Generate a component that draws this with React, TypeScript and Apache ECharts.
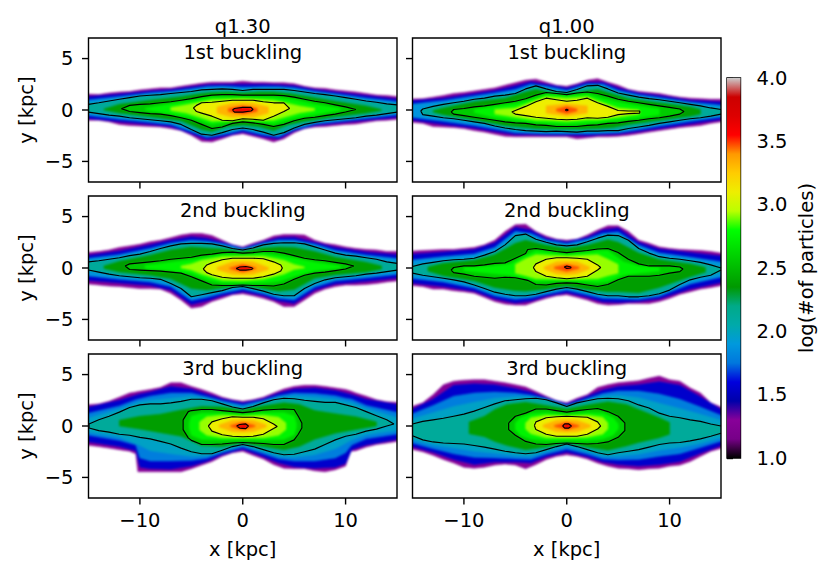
import React, { useEffect, useRef } from "react";
import * as echarts from "echarts";

type Row = number[];

const columnTitles = ["q1.30", "q1.00"];
const rowTitles = ["1st buckling", "2nd buckling", "3rd buckling"];
const xTicks = [-10, 0, 10];
const yTicks = [-5, 0, 5];
const colorPositions = [0, 0.05, 0.1, 0.15, 0.2, 0.25, 0.3, 0.35, 0.4, 0.45, 0.5, 0.55, 0.6, 0.65, 0.7, 0.75, 0.8, 0.85, 0.9, 0.95, 1];
const colorValues = ["#000000", "#770088", "#880099", "#0000aa", "#0000dd", "#0077dd", "#0099dd", "#00aaaa", "#00aa88", "#009900", "#00bb00", "#00dd00", "#00ff00", "#bbff00", "#eeee00", "#ffcc00", "#ff9900", "#ff0000", "#dd0000", "#cc0000", "#cccccc"];
const bandFill = [1.27, 1.55, 1.88, 2.12, 2.37, 2.57, 2.75, 2.92, 3.1, 3.32, 3.47, 3.6];
const wideBlueFill = [1.78, 1.97];
const contourBands = [3, 5, 8, 11];

// rows: [x, upper y, lower y] for each density level, kpc
const A_e: Row[] = [[-15,1.55,-1],[-14,1.5,-1],[-13,1.65,-1.15],[-12,1.75,-1.4],[-11,1.8,-1.5],[-10,1.95,-1.55],[-9,2.05,-1.6],[-8,2.15,-1.65],[-7,2.15,-1.8],[-6,2.3,-2],[-5,2.45,-2.45],[-4,2.6,-3.05],[-3,2.7,-3.1],[-2,2.7,-2.8],[-1,2.7,-2.45],[0,2.8,-2.3],[1,2.7,-2.55],[2,2.7,-2.8],[3,2.65,-3.1],[4,2.65,-2.8],[5,2.55,-2.2],[6,2.3,-1.8],[7,2.15,-1.65],[8,2.1,-1.6],[9,1.95,-1.5],[10,1.85,-1.4],[11,1.75,-1.35],[12,1.6,-1.2],[13,1.45,-1.05],[14,1.4,-1],[15,1.25,-0.85]];
const A_145: Row[] = [[-15,1.25,-0.75],[-12,1.55,-1.15],[-9,1.85,-1.4],[-7,2,-1.6],[-5,2.25,-2.3],[-3.5,2.45,-2.85],[-2,2.5,-2.6],[0,2.5,-2.15],[2,2.5,-2.6],[3.5,2.45,-2.8],[5,2.35,-2.05],[7,2,-1.5],[9,1.75,-1.3],[12,1.4,-1],[15,1,-0.65]];
const A_175: Row[] = [[-15,0.9,-0.45],[-12,1.3,-0.9],[-9,1.65,-1.2],[-7,1.8,-1.4],[-5,2.05,-2.1],[-3.5,2.25,-2.65],[-2,2.3,-2.4],[0,2.2,-1.95],[2,2.25,-2.4],[3.5,2.25,-2.6],[5,2.15,-1.9],[7,1.8,-1.35],[9,1.55,-1.15],[12,1.15,-0.8],[15,0.75,-0.4]];
const A_c2: Row[] = [[-15,0.55,-0.2],[-14,0.7,-0.35],[-13,0.87,-0.5],[-12,1.04,-0.6],[-11,1.2,-0.75],[-10,1.36,-0.85],[-9,1.43,-0.95],[-8,1.5,-1.05],[-7,1.6,-1.15],[-6,1.7,-1.4],[-5,1.8,-1.9],[-4,1.95,-2.35],[-3,2,-2.45],[-2,2.05,-2.2],[-1,2,-1.9],[0,1.9,-1.75],[1,2,-1.9],[2,2,-2.15],[3,2,-2.45],[4,2,-2.2],[5,1.9,-1.75],[6,1.75,-1.4],[7,1.6,-1.2],[8,1.5,-1.05],[9,1.36,-0.95],[10,1.2,-0.85],[11,1.04,-0.75],[12,0.87,-0.6],[13,0.75,-0.5],[14,0.6,-0.35],[15,0.5,-0.2]];
const A_225: Row[] = [[-13.5,0.1,0],[-12,0.55,-0.3],[-9,0.95,-0.65],[-6,1.3,-1.05],[-4,1.6,-1.9],[-3,1.7,-2.1],[-1.5,1.75,-1.6],[0,1.65,-1.45],[1.5,1.75,-1.6],[3,1.75,-2],[4.5,1.6,-1.4],[6,1.35,-1.1],[9,0.85,-0.65],[12,0.4,-0.3],[13.5,0.05,-0.05]];
const A_c25: Row[] = [[-11.8,0.13,0.13],[-11,0.45,-0.15],[-10,0.55,-0.25],[-9,0.6,-0.35],[-8,0.7,-0.4],[-7,0.8,-0.55],[-6,0.95,-0.75],[-5,1.1,-1],[-4,1.3,-1.4],[-3,1.45,-1.8],[-2,1.5,-1.65],[-1,1.5,-1.3],[0,1.45,-1.15],[1,1.45,-1.25],[2,1.45,-1.4],[3,1.45,-1.6],[4,1.4,-1.4],[5,1.25,-1.05],[6,1.05,-0.8],[7,0.85,-0.7],[8,0.7,-0.55],[9,0.5,-0.4],[10,0.3,-0.2],[11,0.05,0.05]];
const A_265: Row[] = [[-9.5,0.15,0.05],[-7,0.6,-0.4],[-5,0.9,-0.75],[-3,1.25,-1.4],[0,1.25,-0.95],[3,1.25,-1.35],[5,1,-0.8],[7,0.55,-0.45],[9.5,0.15,0]];
const A_285: Row[] = [[-7,0.25,-0.05],[-5.5,0.5,-0.3],[-3,1,-1.1],[0,1.1,-0.95],[3,0.95,-1],[5.5,0.4,-0.3],[7,0.15,-0.05]];
const A_c3: Row[] = [[-4.8,0.2,0.2],[-4.5,0.45,-0.15],[-4,0.7,-0.3],[-3,0.75,-0.6],[-2,0.85,-1],[-1,0.95,-1.05],[0,0.95,-0.85],[1,0.95,-0.9],[2,0.8,-1],[3,0.7,-0.6],[4,0.7,-0.15],[4.55,0.15,0.15]];
const A_325: Row[] = [[-2.5,0.3,-0.3],[-1,0.65,-0.7],[0,0.7,-0.65],[1,0.65,-0.7],[2.5,0.3,-0.3]];
const A_34: Row[] = [[-1.4,0.15,-0.15],[0,0.4,-0.4],[1.4,0.15,-0.15]];
const A_c35: Row[] = [[-1,0,0],[-0.8,0.15,-0.2],[0,0.25,-0.2],[0.8,0.25,-0.1],[1,0.05,0.05]];

const B_e: Row[] = [[-15,1.05,-1.15],[-14,1.1,-1.3],[-13,1.25,-1.6],[-12,1.4,-1.65],[-11,1.6,-1.7],[-10,1.7,-1.8],[-9,1.85,-2],[-8,2,-2.15],[-7,2.15,-2.35],[-6,2.4,-2.55],[-5,2.65,-2.6],[-4,2.9,-2.6],[-3,3,-2.6],[-2,2.7,-2.6],[-1,2.4,-2.6],[0,2.3,-2.6],[1,2.55,-2.8],[2,2.9,-2.7],[3,3.05,-2.6],[4,2.7,-2.6],[5,2.4,-2.55],[6,2,-2.45],[7,1.8,-2.3],[8,1.7,-2.15],[9,1.6,-2],[10,1.4,-1.85],[11,1.25,-1.7],[12,1.15,-1.6],[13,1.1,-1.5],[14,1.05,-1.3],[15,1.05,-1.05]];
const B_145: Row[] = [[-15,0.85,-0.9],[-12,1.15,-1.4],[-9,1.6,-1.75],[-7,1.9,-2.1],[-5,2.35,-2.4],[-3.5,2.75,-2.4],[-2,2.5,-2.45],[0,2.15,-2.45],[2,2.7,-2.5],[3.5,2.7,-2.4],[5,2.15,-2.35],[7,1.65,-2.1],[9,1.4,-1.8],[12,0.95,-1.35],[15,0.75,-0.85]];
const B_175: Row[] = [[-15,0.5,-0.65],[-12,0.9,-1.1],[-9,1.35,-1.5],[-7,1.65,-1.85],[-5,2,-2.2],[-3.5,2.5,-2.25],[-2,2.3,-2.3],[0,1.9,-2.3],[2,2.5,-2.3],[3.5,2.5,-2.25],[5,1.9,-2.2],[7,1.45,-1.9],[9,1.2,-1.55],[12,0.75,-1.1],[15,0.4,-0.6]];
const B_c2: Row[] = [[-14.2,-0.1,-0.1],[-14,0.1,-0.45],[-13,0.35,-0.6],[-12,0.55,-0.75],[-11,0.7,-0.85],[-10,0.85,-1],[-9,1.05,-1.15],[-8,1.15,-1.3],[-7,1.35,-1.55],[-6,1.45,-1.75],[-5,1.6,-1.9],[-4,2.05,-2],[-3,2.35,-2.05],[-2,2.05,-2.1],[-1,1.8,-2.05],[0,1.7,-2.1],[1,2,-2.15],[2,2.35,-2.05],[3,2.4,-2.05],[4,2.05,-2],[5,1.65,-2],[6,1.45,-1.8],[7,1.25,-1.65],[8,1.1,-1.5],[9,1,-1.3],[10,0.85,-1.15],[11,0.7,-1],[12,0.55,-0.85],[13,0.4,-0.75],[14,0.2,-0.6],[15,0.05,-0.4]];
const B_225: Row[] = [[-13,-0.05,-0.2],[-12,0.2,-0.45],[-9,0.8,-0.95],[-6,1.15,-1.5],[-4,1.75,-1.7],[-3,2,-1.8],[-1.5,1.7,-1.85],[0,1.55,-1.85],[1.5,1.8,-1.85],[3,2,-1.8],[4.5,1.55,-1.7],[6,1.1,-1.4],[9,0.7,-1],[12,0.3,-0.6],[13,0.05,-0.4]];
const B_c25: Row[] = [[-11.25,-0.2,-0.2],[-11,0.05,-0.4],[-10,0.15,-0.55],[-9,0.3,-0.7],[-8,0.4,-0.85],[-7,0.55,-1],[-6,0.7,-1.15],[-5,0.85,-1.25],[-4,1.1,-1.3],[-3,1.45,-1.45],[-2,1.7,-1.5],[-1,1.6,-1.6],[0,1.5,-1.6],[1,1.65,-1.6],[2,1.75,-1.5],[3,1.6,-1.45],[4,1.35,-1.3],[5,1.05,-1.25],[6,0.85,-1.1],[7,0.7,-1],[8,0.55,-0.85],[9,0.4,-0.75],[10,0.25,-0.6],[11,0.1,-0.4],[11.4,-0.15,-0.15]];
const B_265: Row[] = [[-9,0.05,-0.25],[-7,0.35,-0.75],[-5,0.6,-1],[-3.5,1,-1.15],[-2,1.5,-1.3],[0,1.35,-1.4],[2,1.55,-1.3],[3.5,1.1,-1.15],[5,0.75,-1],[7,0.4,-0.75],[9,0.1,-0.45]];
const B_285: Row[] = [[-7,0.05,-0.4],[-5,0.2,-0.7],[-3,0.95,-1],[-2,1.3,-1],[0,1.15,-1.1],[2,1.3,-0.95],[3,0.9,-0.95],[5,0.2,-0.7],[7,0,-0.4]];
const B_c3: Row[] = [[-5.35,-0.2,-0.2],[-5,-0.05,-0.4],[-4,0.35,-0.55],[-3,0.8,-0.7],[-2,1.15,-0.8],[-1,1,-0.9],[0,0.85,-0.95],[1,0.95,-0.9],[2,1.15,-0.75],[3,0.7,-0.8],[4,0.35,-0.7],[5,-0.05,-0.45],[6,-0.1,-0.35],[7.1,-0.1,-0.3]];
const B_325: Row[] = [[-2,0.4,-0.3],[0,0.6,-0.6],[2,0.4,-0.3]];
const B_34: Row[] = [[-1,0.1,-0.1],[0,0.35,-0.35],[1,0.1,-0.1]];
const B_c35: Row[] = [[-0.15,0,0],[0,0.08,-0.08],[0.15,0,0]];

const C_e: Row[] = [[-15,1.45,-1.5],[-14,1.6,-1.65],[-13,1.75,-1.75],[-12,2,-1.8],[-11,2.15,-1.9],[-10,2.3,-2],[-9,2.55,-2],[-8,2.7,-2.05],[-7,2.95,-2.45],[-6,3.2,-3.1],[-5,3.35,-3.9],[-4,3.35,-3.75],[-3,3.15,-3.25],[-2,2.7,-2.95],[-1,2.25,-2.6],[0,2.05,-2.5],[1,2.4,-2.7],[2,2.7,-2.95],[3,3.1,-3.25],[4,3.25,-3.75],[5,3.25,-3.75],[6,3.2,-3.1],[7,2.7,-2.45],[8,2.4,-2.05],[9,2.25,-1.8],[10,2.05,-1.65],[11,1.9,-1.65],[12,1.8,-1.6],[13,1.75,-1.5],[14,1.6,-1.35],[15,1.6,-1.2]];
const C_145: Row[] = [[-15,1.15,-1.15],[-12,1.65,-1.45],[-9,2.25,-1.7],[-7,2.7,-2.15],[-5,3.05,-3.55],[-3.5,2.9,-3.2],[-2,2.5,-2.7],[0,1.95,-2.3],[2,2.55,-2.7],[3.5,2.95,-3.2],[5,3,-3.45],[7,2.5,-2.15],[9,2,-1.55],[12,1.55,-1.3],[15,1.25,-0.9]];
const C_175: Row[] = [[-15,0.85,-0.7],[-12,1.3,-1.1],[-9,1.9,-1.35],[-7,2.4,-1.8],[-5,2.7,-3.15],[-3.5,2.6,-2.85],[-2,2.35,-2.45],[0,1.85,-2.05],[2,2.4,-2.5],[3.5,2.7,-2.95],[5,2.7,-3.1],[7,2.3,-1.85],[9,1.7,-1.25],[12,1.25,-0.95],[15,0.85,-0.55]];
const C_c2: Row[] = [[-15,0.6,-0.2],[-14,0.7,-0.4],[-13,0.85,-0.6],[-12,1,-0.75],[-11,1.2,-0.85],[-10,1.35,-0.95],[-9,1.6,-1],[-8,1.9,-1.1],[-7,2.15,-1.5],[-6,2.35,-2],[-5,2.4,-2.8],[-4,2.4,-2.6],[-3,2.35,-2.4],[-2,2.15,-2.2],[-1,1.9,-1.9],[0,1.75,-1.8],[1,1.95,-2],[2,2.25,-2.25],[3,2.4,-2.55],[4,2.45,-2.7],[5,2.45,-2.7],[6,2.35,-2],[7,2.05,-1.5],[8,1.75,-1.15],[9,1.45,-0.95],[10,1.25,-0.85],[11,1.15,-0.75],[12,1,-0.6],[13,0.85,-0.5],[14,0.6,-0.35],[15,0.45,-0.2]];
const C_225: Row[] = [[-13.5,0.2,-0.05],[-12,0.65,-0.4],[-9,1.25,-0.7],[-7,1.75,-1.05],[-5,2.05,-2],[-3.5,1.95,-2.15],[-2,1.85,-1.95],[0,1.6,-1.65],[2,1.95,-2],[3.5,2.05,-2.25],[5,2,-2.1],[7,1.6,-1],[9,1.05,-0.65],[12,0.55,-0.4],[13.5,0.2,-0.1]];
const C_c25: Row[] = [[-11.45,0.2,0.2],[-11,0.4,-0.15],[-10,0.5,-0.2],[-9,0.6,-0.25],[-8,0.7,-0.3],[-7,0.85,-0.4],[-6,0.95,-0.5],[-5,1.05,-0.85],[-4,1.25,-1.25],[-3,1.35,-1.65],[-2,1.5,-1.7],[-1,1.55,-1.7],[0,1.45,-1.65],[1,1.5,-1.7],[2,1.6,-1.7],[3,1.6,-1.75],[4,1.45,-1.55],[5,1.2,-1.1],[6,0.95,-0.7],[7,0.8,-0.5],[8,0.7,-0.4],[9,0.55,-0.25],[10,0.4,-0.1],[10.8,0.2,0.2]];
const C_265: Row[] = [[-9.5,0.25,-0.05],[-7,0.55,-0.25],[-5,0.8,-0.55],[-3.5,1.05,-1.15],[-2,1.3,-1.45],[0,1.25,-1.45],[2,1.4,-1.45],[3.5,1.2,-1.3],[5,0.95,-0.8],[7,0.55,-0.25],[9.5,0.2,0]];
const C_285: Row[] = [[-6,0.2,0],[-5,0.4,-0.2],[-4,0.75,-0.6],[-2,1.1,-1.2],[0,1.15,-1.25],[2,1.15,-1.1],[4,0.75,-0.6],[5,0.35,-0.15],[6,0.1,0]];
const C_c3: Row[] = [[-3.85,-0.1,-0.1],[-3.5,0.3,-0.45],[-3,0.5,-0.65],[-2,0.8,-0.9],[-1,0.95,-1],[0,0.95,-1],[1,0.95,-1],[2,0.9,-0.85],[3,0.6,-0.6],[3.7,0.3,-0.3],[3.85,0,0]];
const C_325: Row[] = [[-2.5,0.05,-0.15],[-1,0.6,-0.6],[0,0.65,-0.65],[1,0.6,-0.6],[2.5,0.05,-0.15]];
const C_34: Row[] = [[-1.3,0,-0.05],[0,0.35,-0.4],[1.3,0,-0.05]];
const C_c35: Row[] = [[-0.65,-0.05,-0.05],[-0.3,0.1,-0.2],[0.3,0.15,-0.2],[0.8,0.05,-0.15],[1,-0.05,-0.05]];

const D_e: Row[] = [[-15,1.6,-1.65],[-14,1.7,-1.8],[-13,1.75,-2.05],[-12,1.8,-2.05],[-11,1.8,-2.2],[-10,1.9,-2.3],[-9,2,-2.45],[-8,2.25,-2.85],[-7,2.7,-3.25],[-6,3.55,-3.5],[-5,4.2,-3.6],[-4,4.25,-3.6],[-3,3.55,-3.25],[-2,3.1,-2.95],[-1,2.8,-2.7],[0,2.7,-2.6],[1,2.8,-2.85],[2,3.2,-3.1],[3,3.7,-3.45],[4,4.1,-3.6],[5,4.1,-3.55],[6,3.55,-3.45],[7,2.7,-3.45],[8,2.4,-3.45],[9,2.05,-3.25],[10,1.9,-2.95],[11,1.8,-2.55],[12,1.75,-2.3],[13,1.7,-2.05],[14,1.6,-1.9],[15,1.35,-1.6]];
const D_145: Row[] = [[-15,1.3,-1.4],[-12,1.55,-1.8],[-9,1.8,-2.25],[-7,2.45,-3],[-5,3.95,-3.4],[-3.5,3.7,-3.2],[-2,2.9,-2.75],[0,2.55,-2.4],[2,3,-2.85],[3.5,3.7,-3.3],[5,3.9,-3.35],[7,2.5,-3.25],[9,1.85,-3],[12,1.5,-2.05],[15,1.1,-1.3]];
const D_175: Row[] = [[-15,0.7,-0.95],[-12,1.1,-1.35],[-9,1.35,-1.95],[-7,2,-2.7],[-5,3.55,-3.05],[-3.5,3.35,-2.9],[-2,2.7,-2.55],[0,2.35,-2.15],[2,2.8,-2.6],[3.5,3.35,-2.95],[5,3.5,-3],[7,2.2,-3.05],[9,1.45,-2.75],[12,1.05,-1.55],[15,0.5,-0.75]];
const D_c2: Row[] = [[-15,0.15,-0.5],[-14,0.4,-0.7],[-13,0.55,-0.85],[-12,0.7,-1],[-11,0.8,-1.15],[-10,0.85,-1.35],[-9,0.95,-1.65],[-8,1.25,-2],[-7,1.6,-2.35],[-6,2.25,-2.55],[-5,3.15,-2.7],[-4,3.3,-2.7],[-3,2.8,-2.55],[-2,2.5,-2.3],[-1,2.25,-2.05],[0,2.15,-1.9],[1,2.25,-2.05],[2,2.55,-2.3],[3,2.9,-2.55],[4,3.2,-2.7],[5,3.15,-2.7],[6,2.7,-2.8],[7,1.9,-2.8],[8,1.45,-2.7],[9,1.1,-2.5],[10,0.95,-2.15],[11,0.85,-1.6],[12,0.7,-1.15],[13,0.55,-0.9],[14,0.3,-0.7],[15,0,-0.2]];
const D_225: Row[] = [[-13.5,0.1,-0.3],[-12,0.45,-0.75],[-9,0.75,-1.25],[-7,1.3,-1.9],[-5,2.4,-2.2],[-4,2.7,-2.25],[-2,2.2,-2.05],[0,1.9,-1.75],[2,2.2,-2.1],[4,2.75,-2.3],[5,2.5,-2.3],[7,1.45,-2.4],[9,0.8,-1.9],[12,0.4,-0.85],[13.5,0.05,-0.4]];
const D_c25: Row[] = [[-11.25,-0.2,-0.2],[-11,0.05,-0.45],[-10,0.2,-0.6],[-9,0.2,-0.8],[-8,0.3,-0.9],[-7,0.45,-1],[-6,0.5,-0.9],[-5,0.95,-0.95],[-4,1.4,-1.15],[-3.8,1.8,-1.2],[-3,1.9,-1.6],[-2,1.75,-1.65],[-1,1.6,-1.5],[0,1.5,-1.45],[1,1.6,-1.5],[2,1.7,-1.65],[3,1.85,-1.8],[4,1.9,-1.6],[5,1.5,-1.15],[6,0.85,-0.8],[7,0.4,-0.8],[8,0.2,-0.8],[9,0.2,-0.7],[10,0.2,-0.5],[11,0.1,-0.35],[11.3,-0.1,-0.1]];
const D_265: Row[] = [[-10,0.05,-0.25],[-7,0.2,-0.55],[-5.5,0.4,-0.7],[-4,1.2,-1],[-3,1.7,-1.3],[0,1.3,-1.2],[3,1.65,-1.4],[4,1.7,-1.3],[5.5,0.6,-0.7],[7,0.2,-0.5],[9,0.05,-0.3]];
const D_285: Row[] = [[-5,0.35,-0.5],[-4,0.9,-0.75],[-3,1.3,-1.05],[0,1.15,-1.1],[3,1.3,-1.05],[4,0.85,-0.75],[5,0.35,-0.5]];
const D_c3: Row[] = [[-3.25,0.05,0.05],[-3,0.4,-0.35],[-2,0.85,-0.8],[-1,1,-0.95],[0,1,-1.05],[1,0.95,-0.95],[2,0.85,-0.8],[3,0.3,-0.2],[3.3,0.05,0.05]];
const D_325: Row[] = [[-2.2,0.1,-0.1],[-1,0.6,-0.55],[0,0.65,-0.65],[1,0.6,-0.55],[2.2,0.1,-0.1]];
const D_34: Row[] = [[-1.2,0.1,-0.05],[0,0.35,-0.35],[1.2,0.1,-0.05]];
const D_c35: Row[] = [[-0.25,0.1,0.1],[0,0.2,-0.05],[0.4,0.1,0]];

const E_e: Row[] = [[-15,2,-1.8],[-14,2.15,-2],[-13,2.4,-2.15],[-12,2.8,-2.3],[-11,3.2,-2.45],[-10.4,3.3,-2.7],[-10.2,3.35,-4.45],[-9,3.55,-4.45],[-8,3.75,-4.45],[-7,4.2,-4.45],[-6,4.2,-4.45],[-5,3.85,-4.15],[-4,3.55,-3.8],[-3,3.2,-3.45],[-2,2.8,-2.95],[-1,2.55,-2.6],[0,2.4,-2.45],[1,2.55,-2.85],[2,2.8,-3.2],[3,3.2,-3.75],[4,3.6,-4.1],[5,3.85,-4.15],[6,3.95,-4.15],[7,3.95,-4.35],[8,3.85,-4.45],[9,3.7,-4.25],[10,3.55,-3.9],[10.5,3.4,-2.45],[11,3.2,-2.4],[12,2.9,-2.05],[13,2.55,-1.8],[14,2.35,-1.65],[15,2.25,-1.4]];
const E_145: Row[] = [[-15,1.7,-1.45],[-12,2.5,-2],[-10.4,3,-2.4],[-10,3.1,-4],[-9,3.3,-4.15],[-7,3.85,-4.2],[-5,3.6,-3.9],[-3.5,3.1,-3.45],[-2,2.65,-2.8],[0,2.25,-2.25],[2,2.65,-3],[3.5,3.2,-3.6],[5,3.6,-3.95],[7,3.7,-4.1],[9,3.45,-4],[10,3.2,-3.65],[10.6,3.05,-2.3],[12,2.6,-1.85],[15,2,-1.2]];
const E_175: Row[] = [[-15,1.1,-0.8],[-12,1.95,-1.4],[-10.4,2.55,-1.85],[-10,2.65,-3.1],[-9,2.9,-3.4],[-7,3.2,-3.4],[-5,3.2,-3.35],[-3.5,2.85,-3.15],[-2,2.45,-2.6],[0,2.05,-2.05],[2,2.5,-2.7],[3.5,2.95,-3.2],[5,3.2,-3.4],[7,3.15,-3.4],[9,2.95,-3.1],[10,2.7,-2.6],[10.6,2.6,-1.85],[12,2,-1.25],[15,1.2,-0.7]];
const E_19: Row[] = [[-15,0.6,-0.5],[-12,1.65,-1.1],[-10,2.35,-1.9],[-9,2.5,-2.4],[-7,2.7,-2.7],[-5,2.9,-2.95],[-3.5,2.7,-2.9],[-2,2.3,-2.45],[0,1.85,-1.92],[2,2.38,-2.5],[3.5,2.8,-2.95],[5,2.92,-3.05],[7,2.8,-2.8],[9,2.6,-2.2],[10.6,2.25,-1.35],[12,1.7,-0.85],[15,0.65,-0.35]];
const E_c2: Row[] = [[-14.95,0.2,-0.2],[-14,0.6,-0.45],[-13,0.95,-0.6],[-12,1.35,-0.8],[-11,1.8,-0.9],[-10,2.05,-1.1],[-9,2.15,-1.25],[-8,2.15,-1.5],[-7,2.25,-1.75],[-6,2.4,-2.15],[-5,2.6,-2.5],[-4,2.6,-2.7],[-3,2.45,-2.7],[-2,2.15,-2.35],[-1,1.85,-2],[0,1.65,-1.8],[1,1.9,-2],[2,2.25,-2.3],[3,2.55,-2.6],[4,2.7,-2.8],[5,2.65,-2.75],[6,2.5,-2.5],[7,2.4,-2.25],[8,2.3,-1.8],[9,2.3,-1.35],[10,2.05,-1],[11,1.8,-0.8],[12,1.4,-0.5],[13,1,-0.3],[14,0.6,0],[14.7,0.2,0.2]];
const E_225: Row[] = [[-12,0.55,0],[-10,0.95,-0.3],[-8,1.15,-0.65],[-6,1.55,-1],[-4,1.9,-1.9],[-2,1.85,-2],[0,1.55,-1.65],[2,1.95,-2],[4,2.25,-2.3],[5.5,2.1,-2],[7,1.5,-1.3],[9,1.2,-0.7],[11,0.9,-0.35],[13,0.4,0]];
const E_c25: Row[] = [[-5.8,0.6,-0.35],[-5.3,1.4,-1.15],[-5,1.5,-1.4],[-4,1.6,-1.8],[-3,1.6,-1.8],[-2,1.5,-1.75],[-1,1.4,-1.65],[0,1.3,-1.6],[1,1.4,-1.65],[2,1.55,-1.7],[3,1.6,-1.8],[4,1.65,-1.8],[5,1.6,-1.35],[5.4,0.95,-0.8],[5.75,0.3,-0.2]];
const E_265: Row[] = [[-5.2,0.3,-0.2],[-5,0.95,-0.9],[-4,1.25,-1.3],[-2,1.25,-1.35],[0,1.1,-1.3],[2,1.3,-1.35],[4,1.3,-1.3],[5,0.95,-0.85],[5.2,0.3,-0.2]];
const E_285: Row[] = [[-4.2,0.4,-0.4],[-3.5,0.9,-0.9],[-2,1.05,-1.15],[0,0.95,-1.15],[2,1.05,-1.15],[3.5,0.85,-0.9],[4.2,0.3,-0.35]];
const E_c3: Row[] = [[-3.35,0,0],[-3,0.4,-0.5],[-2,0.7,-0.85],[-1,0.9,-1],[0,0.85,-1.05],[1,0.85,-1],[2,0.7,-0.8],[3,0.2,-0.25],[3.35,-0.05,-0.05]];
const E_325: Row[] = [[-2.3,0.1,-0.1],[-1,0.55,-0.55],[0,0.6,-0.6],[1,0.55,-0.55],[2.3,0.1,-0.1]];
const E_34: Row[] = [[-1.2,0.05,-0.05],[0,0.35,-0.35],[1.2,0.05,-0.05]];
const E_c35: Row[] = [[-0.6,0,0],[-0.3,0.15,-0.2],[0.3,0.2,-0.25],[0.55,0,0]];

const F_e: Row[] = [[-15,1.7,-2.15],[-14,2.25,-2.5],[-13,3.05,-2.85],[-12,4,-3.25],[-11,4.35,-3.6],[-10,4.45,-4],[-9,4.5,-4.1],[-8,4.5,-4],[-7,4.35,-3.8],[-6,4.2,-3.7],[-5,4,-3.8],[-4,3.8,-4.15],[-3,3.35,-3.75],[-2,2.9,-3.25],[-1,2.45,-2.95],[0,2.25,-2.8],[1,2.7,-2.95],[2,3.05,-3.2],[3,3.75,-3.6],[4,4,-3.9],[5,4.2,-4.1],[6,4.3,-4.15],[7,4.4,-4.25],[8,4.65,-4.15],[9,4.85,-4.1],[10,4.5,-3.9],[11,4.35,-3.8],[12,3.7,-3.45],[13,3.2,-2.95],[14,2.25,-2.45],[15,1.6,-2]];
const F_145: Row[] = [[-15,1.35,-1.85],[-13,2.6,-2.55],[-11,3.95,-3.25],[-9,4.1,-3.75],[-7,4,-3.5],[-5,3.65,-3.5],[-3.5,3.3,-3.6],[-2,2.75,-3],[0,2.15,-2.55],[2,2.9,-3],[3.5,3.5,-3.5],[5,3.85,-3.75],[7,4,-3.9],[9,4.3,-3.75],[11,3.95,-3.45],[13,2.85,-2.65],[15,1.25,-1.7]];
const F_175: Row[] = [[-15,0.95,-1.5],[-13,2,-2.2],[-11,2.9,-2.7],[-9,3.2,-3.05],[-7,3.3,-3.1],[-5,3.2,-3.2],[-3.5,3,-3.25],[-2,2.65,-2.75],[0,2,-2.25],[2,2.65,-2.75],[3.5,3.15,-3.2],[5,3.4,-3.3],[7,3.4,-3.25],[9,3.1,-2.95],[11,2.6,-2.7],[13,1.85,-2.1],[15,0.8,-1.3]];
const F_19: Row[] = [[-15,0.55,-1.2],[-13,1.3,-1.85],[-11,1.9,-2.15],[-9,2.3,-2.45],[-7,2.7,-2.65],[-5,2.85,-2.9],[-3.5,2.85,-2.95],[-2,2.6,-2.5],[0,1.95,-2],[2,2.55,-2.5],[3.5,2.9,-2.95],[5,3,-2.95],[7,2.75,-2.75],[9,2.2,-2.35],[11,1.7,-2.1],[13,1.15,-1.7],[15,0.4,-1]];
const F_c2: Row[] = [[-15,0.2,-0.95],[-14,0.45,-1.35],[-13,0.6,-1.55],[-12,0.75,-1.65],[-11,0.95,-1.7],[-10,1.15,-1.75],[-9,1.45,-1.9],[-8,1.8,-2.05],[-7,2.15,-2.25],[-6,2.45,-2.45],[-5,2.55,-2.6],[-4,2.65,-2.7],[-3,2.7,-2.6],[-2,2.55,-2.3],[-1,2.25,-2],[0,1.9,-1.75],[1,2.25,-2],[2,2.45,-2.3],[3,2.65,-2.6],[4,2.7,-2.8],[5,2.65,-2.6],[6,2.45,-2.45],[7,2.05,-2.3],[8,1.75,-2.05],[9,1.25,-1.8],[10,0.95,-1.65],[11,0.8,-1.6],[12,0.6,-1.45],[13,0.45,-1.25],[14,0.2,-1],[15,0,-0.7]];
const F_225: Row[] = [[-9.5,0.4,-0.75],[-8,0.95,-1.05],[-7,1.6,-1.5],[-5.8,2.1,-1.9],[-4,2.3,-2.3],[-2,2,-2.05],[0,1.65,-1.6],[2,2.05,-2.05],[4,2.35,-2.35],[5.8,2.1,-1.95],[7,1.6,-1.6],[9,0.8,-1.15],[10,0.35,-0.8]];
const F_c25: Row[] = [[-5.65,0.3,-0.35],[-5,0.95,-0.9],[-4,1.25,-1.5],[-3,1.65,-1.75],[-2,1.65,-1.8],[-1,1.5,-1.7],[0,1.35,-1.65],[1,1.5,-1.7],[2,1.6,-1.75],[3,1.7,-1.7],[4,1.4,-1.55],[5,0.95,-1.1],[5.65,0.3,-0.45]];
const F_265: Row[] = [[-5,0.3,-0.35],[-4.5,0.8,-0.9],[-3.5,1.2,-1.25],[-2,1.3,-1.4],[0,1.1,-1.35],[2,1.3,-1.4],[3.5,1.25,-1.25],[4.5,0.8,-0.9],[5,0.2,-0.3]];
const F_285: Row[] = [[-4,0.3,-0.3],[-3.5,0.8,-0.75],[-2,1.05,-1.15],[0,0.95,-1.15],[2,1.05,-1.1],[3.5,0.85,-0.8],[4,0.3,-0.3]];
const F_c3: Row[] = [[-3.15,0.05,0.05],[-3,0.4,-0.35],[-2,0.8,-0.8],[-1,0.9,-1],[0,0.95,-1],[1,0.9,-1],[2,0.85,-0.8],[3,0.4,-0.3],[3.3,0,0]];
const F_325: Row[] = [[-2.3,0.1,-0.1],[-1,0.55,-0.55],[0,0.6,-0.6],[1,0.55,-0.55],[2.3,0.1,-0.1]];
const F_34: Row[] = [[-1.2,0.05,-0.05],[0,0.35,-0.35],[1.2,0.05,-0.05]];
const F_c35: Row[] = [[-0.4,0,0],[-0.2,0.2,-0.2],[0.2,0.2,-0.2],[0.45,0,0]];

const panelBands: Row[][][] = [
  [A_e, A_145, A_175, A_c2, A_225, A_c25, A_265, A_285, A_c3, A_325, A_34, A_c35],
  [B_e, B_145, B_175, B_c2, B_225, B_c25, B_265, B_285, B_c3, B_325, B_34, B_c35],
  [C_e, C_145, C_175, C_c2, C_225, C_c25, C_265, C_285, C_c3, C_325, C_34, C_c35],
  [D_e, D_145, D_175, D_c2, D_225, D_c25, D_265, D_285, D_c3, D_325, D_34, D_c35],
  [E_e, E_145, E_175, E_c2, E_225, E_c25, E_265, E_285, E_c3, E_325, E_34, E_c35],
  [F_e, F_145, F_175, F_c2, F_225, F_c25, F_265, F_285, F_c3, F_325, F_34, F_c35],
];
const wideBlueBands: (Row[] | null)[] = [null, null, null, null, E_19, F_19];

const FONT = "DejaVu Sans";
const FS = 19.5;
const colLeft = [88.5, 412.5];
const rowTop = [38, 196, 354];
const panelW = 308.5;
const panelH = 144;

function colorAt(v: number): string {
  const f = (v - 1) / 3;
  let i = 0;
  while (i < colorPositions.length - 2 && colorPositions[i + 1] < f) i++;
  const t = (f - colorPositions[i]) / (colorPositions[i + 1] - colorPositions[i]);
  const a = echarts.color.parse(colorValues[i]);
  const b = echarts.color.parse(colorValues[i + 1]);
  const c = [0, 1, 2].map((k) => Math.round(a[k] + (b[k] - a[k]) * t));
  return `rgb(${c[0]},${c[1]},${c[2]})`;
}

function ring(t: Row[]): number[][] {
  return [...t.map((r) => [r[0], r[1]]), ...[...t].reverse().map((r) => [r[0], r[2]])];
}

function contourLine(t: Row[]): any[][] {
  const top = t.map((r) => [r[0], r[1]]);
  const bot = [...t].reverse().map((r) => [r[0], r[2]]);
  const rightOpen = t[t.length - 1][0] >= 15;
  const leftOpen = t[0][0] <= -15;
  const out: any[][] = [...top];
  if (rightOpen) out.push(["-", "-"]);
  out.push(...bot);
  if (!leftOpen) out.push(top[0]);
  return out;
}

function panelGrid(idx: number, visible: boolean) {
  const col = idx % 2;
  const row = Math.floor(idx / 2);
  return { left: colLeft[col], top: rowTop[row], width: panelW, height: panelH, show: visible, borderColor: "#000", borderWidth: 1.4, backgroundColor: "transparent" };
}

// Underlay: density bands only. It is softened by a CSS blur, as the reference's fine bins blend smoothly.
function buildDensityOption() {
  const grid: any[] = [];
  const xAxis: any[] = [];
  const yAxis: any[] = [];
  const series: any[] = [];
  panelBands.forEach((bands, idx) => {
    grid.push(panelGrid(idx, false));
    xAxis.push({ type: "value", gridIndex: idx, min: -15, max: 15, show: false });
    yAxis.push({ type: "value", gridIndex: idx, min: -7, max: 7, show: false });
    const layers = bands.map((t, b) => ({ t, v: bandFill[b] }));
    const wide = wideBlueBands[idx];
    if (wide) {
      layers[2].v = wideBlueFill[0];
      layers.splice(3, 0, { t: wide, v: wideBlueFill[1] });
    }
    layers.forEach(({ t, v }, b) => {
      const pts = ring(t);
      const fill = colorAt(v);
      series.push({
        type: "custom", xAxisIndex: idx, yAxisIndex: idx, coordinateSystem: "cartesian2d", clip: false, silent: true, z: 2 + b,
        encode: { x: 0, y: 1 },
        data: pts,
        renderItem: (p: any, api: any) => p.dataIndex !== 0 ? null : ({
          type: "polygon",
          // bands reaching the frame run on past it so the blur does not fade them; the wrapper clips them
          shape: { points: pts.map((q) => api.coord([Math.abs(q[0]) >= 15 ? q[0] * 1.04 : q[0], q[1]])) },
          style: { fill, stroke: fill, lineWidth: 0.5 },
        }),
      });
    });
  });
  return { animation: false, backgroundColor: "transparent", grid, xAxis, yAxis, series };
}

function buildFrameOption() {
  const grid: any[] = [];
  const xAxis: any[] = [];
  const yAxis: any[] = [];
  const series: any[] = [];
  const title: any[] = [];
  const tick = { show: true, length: 6, lineStyle: { color: "#000", width: 1.4 } };
  const lab = { color: "#000", fontFamily: FONT, fontSize: FS };
  const minus = (v: number) => String(v).replace("-", "\u2212");

  panelBands.forEach((bands, idx) => {
    const col = idx % 2;
    const row = Math.floor(idx / 2);
    grid.push(panelGrid(idx, true));
    xAxis.push({
      type: "value", gridIndex: idx, min: -15, max: 15, position: "bottom",
      axisLine: { show: false }, splitLine: { show: false }, axisTick: { show: false },
      axisLabel: { show: row === 2, customValues: xTicks, formatter: minus, margin: 12, ...lab },
      name: row === 2 ? "x [kpc]" : "", nameLocation: "middle", nameGap: 41, nameTextStyle: lab,
    });
    yAxis.push({
      type: "value", gridIndex: idx, min: -7, max: 7, position: "left",
      axisLine: { show: false }, splitLine: { show: false }, axisTick: { show: false },
      axisLabel: { show: col === 0, customValues: yTicks, formatter: minus, margin: 15, ...lab },
      name: col === 0 ? "y [kpc]" : "", nameLocation: "middle", nameGap: 52, nameRotate: 90, nameTextStyle: lab,
    });
    series.push({
      type: "custom", xAxisIndex: idx, yAxisIndex: idx, coordinateSystem: "cartesian2d", clip: false, silent: true, z: 40,
      encode: { x: 0, y: 1 }, data: xTicks.map((v) => [v, -7]),
      renderItem: (_p: any, api: any) => {
        const c = api.coord([api.value(0), -7]);
        return { type: "line", shape: { x1: c[0], y1: c[1], x2: c[0], y2: c[1] + 6.5 }, style: { stroke: "#000", lineWidth: 1.4 } };
      },
    });
    series.push({
      type: "custom", xAxisIndex: idx, yAxisIndex: idx, coordinateSystem: "cartesian2d", clip: false, silent: true, z: 40,
      encode: { x: 0, y: 1 }, data: yTicks.map((v) => [-15, v]),
      renderItem: (_p: any, api: any) => {
        const c = api.coord([-15, api.value(1)]);
        return { type: "line", shape: { x1: c[0] - 6.5, y1: c[1], x2: c[0], y2: c[1] }, style: { stroke: "#000", lineWidth: 1.4 } };
      },
    });
    contourBands.forEach((b) => {
      series.push({
        type: "line", xAxisIndex: idx, yAxisIndex: idx, data: contourLine(bands[b]), showSymbol: false, symbol: "none", clip: true, silent: true, z: 30,
        lineStyle: { color: "#000", width: 1.15 }, connectNulls: false,
      });
    });
    title.push({ text: rowTitles[row], left: colLeft[col] + panelW / 2, top: rowTop[row] + 4, padding: 0, textAlign: "center", textStyle: { ...lab, fontWeight: "normal" } });
    if (row === 0) title.push({ text: columnTitles[col], left: colLeft[col] + panelW / 2, top: 16, padding: 0, textAlign: "center", textStyle: { ...lab, fontWeight: "normal" } });
  });

  const cb = panelBands.length;
  grid.push({ left: 727, top: 78, width: 13.5, height: 380, show: true, borderColor: "#000", borderWidth: 1.4, backgroundColor: "transparent" });
  xAxis.push({ type: "value", gridIndex: cb, min: 0, max: 1, show: false });
  yAxis.push({
    type: "value", gridIndex: cb, min: 1, max: 4, interval: 0.5, position: "right",
    axisLine: { show: false }, splitLine: { show: false }, axisTick: tick,
    axisLabel: { formatter: (v: number) => v.toFixed(1), margin: 16, ...lab },
    name: "log(#of particles)", nameLocation: "middle", nameRotate: 90, nameGap: 56, nameTextStyle: lab,
  });
  series.push({
    type: "custom", xAxisIndex: cb, yAxisIndex: cb, coordinateSystem: "cartesian2d", silent: true, z: 2,
    encode: { x: 0, y: 1 },
    data: [[0, 1], [1, 4]],
    renderItem: (p: any, api: any) => {
      if (p.dataIndex !== 0) return null;
      const a = api.coord([0, 4]);
      const b = api.coord([1, 1]);
      return {
        type: "rect",
        shape: { x: a[0], y: a[1], width: b[0] - a[0], height: b[1] - a[1] },
        style: { fill: new echarts.graphic.LinearGradient(0, 1, 0, 0, colorPositions.map((offset, i) => ({ offset, color: colorValues[i] }))) },
      };
    },
  });

  return { animation: false, backgroundColor: "transparent", title, grid, xAxis, yAxis, series };
}

const panelClip = panelBands
  .map((_, idx) => {
    const g = panelGrid(idx, false);
    return `M${g.left} ${g.top}h${panelW}v${panelH}h${-panelW}z`;
  })
  .join(" ");

export default function App() {
  const densityRef = useRef<HTMLDivElement>(null);
  const frameRef = useRef<HTMLDivElement>(null);
  useEffect(() => {
    const density = echarts.init(densityRef.current!, undefined, { renderer: "svg" });
    density.setOption(buildDensityOption() as any);
    const frame = echarts.init(frameRef.current!, undefined, { renderer: "svg" });
    frame.setOption(buildFrameOption() as any);
    return () => {
      density.dispose();
      frame.dispose();
    };
  }, []);
  const box: React.CSSProperties = { position: "fixed", left: 0, top: 0, width: 831, height: 577 };
  return (
    <div style={{ ...box, background: "#fff" }}>
      <div style={{ ...box, clipPath: `path('${panelClip}')` }}>
        <div ref={densityRef} style={{ ...box, filter: "blur(1.1px)" }} />
      </div>
      <div ref={frameRef} style={box} />
    </div>
  );
}
